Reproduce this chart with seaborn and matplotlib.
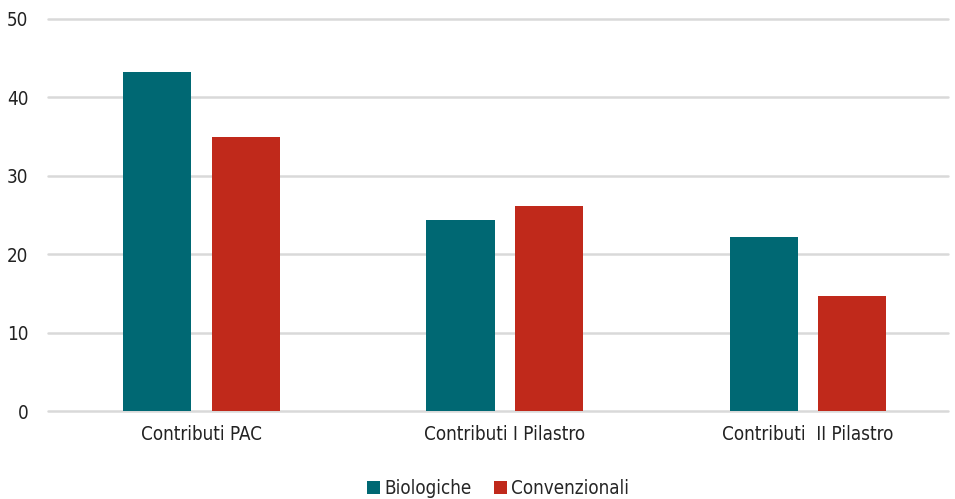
import pandas as pd
import seaborn as sns
import matplotlib.pyplot as plt

categories = ['Contributi PAC', 'Contributi I Pilastro', 'Contributi  II Pilastro']
biologiche = [43.2, 24.4, 22.2]
convenzionali = [34.9, 26.1, 14.7]

data = pd.DataFrame({
    'categoria': categories * 2,
    'valore': biologiche + convenzionali,
    'tipo': ['Biologiche'] * 3 + ['Convenzionali'] * 3,
})

sns.set_style('white')
plt.rcParams['font.family'] = ['DejaVu Sans']
plt.rcParams['font.stretch'] = 'condensed'

fig = plt.figure(figsize=(9.55, 4.99), dpi=100)
ax = fig.add_axes([0.05, 0.176, 0.943, 0.786])

sns.barplot(data=data, x='categoria', y='valore', hue='tipo', ax=ax,
            palette=['#006873', '#c0291b'], width=0.583, gap=0.23,
            saturation=1, linewidth=0, legend=True)

ax.set_ylim(0, 50)
ax.set_xlim(-0.507, 2.463)
ax.set_yticks([0, 10, 20, 30, 40, 50])
ax.yaxis.grid(True, color='#d9d9d9', linewidth=1.8)
for gl in ax.get_ygridlines():
    gl.set_clip_on(False)
ax.set_axisbelow(True)
for s in ax.spines.values():
    s.set_visible(False)
ax.set_xlabel('')
ax.set_ylabel('')
ax.tick_params(axis='both', length=0, labelsize=13.5, colors='#222222')
ax.tick_params(axis='y', pad=14)
ax.tick_params(axis='x', pad=10)

ax.legend(loc='upper center', bbox_to_anchor=(0.5, -0.13), ncol=2, frameon=False,
          fontsize=13.5, handlelength=0.7, handleheight=0.7, handletextpad=0.2,
          columnspacing=1.2)

fig.savefig('out.png', dpi=100)
